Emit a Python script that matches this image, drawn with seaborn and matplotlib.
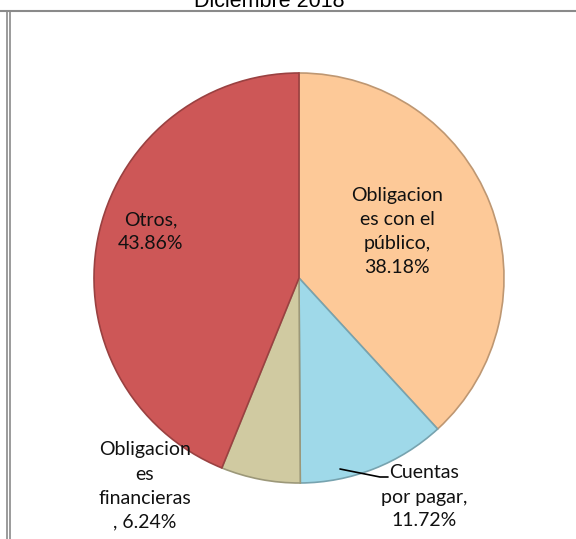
import matplotlib
matplotlib.use("Agg")
import matplotlib.pyplot as plt
import matplotlib.colors as mcolors
import seaborn as sns

# ---- data ----
categories = ["Obligaciones con el público", "Cuentas por pagar",
              "Obligaciones financieras", "Otros"]
label_texts = ["Obligacion\nes con el\npúblico,\n38.18%",
               "Cuentas\npor pagar,\n11.72%",
               "Obligacion\nes\nfinancieras\n, 6.24%",
               "Otros,\n43.86%"]
values = [38.18, 11.72, 6.24, 43.86]
title = "Diciembre 2018"

colors = ["#FDC998", "#9FD9E9", "#D0CAA1", "#CD5757"]

sns.set_theme(style="white")
plt.rcParams["font.family"] = ["Lato", "DejaVu Sans"]

W, H = 576, 539
fig = plt.figure(figsize=(W / 100, H / 100), dpi=100)
fig.patch.set_facecolor("white")

cx, cy, r = 299, 278, 205
ax = fig.add_axes([(cx - r) / W, 1 - (cy + r) / H, 2 * r / W, 2 * r / H])
wedges, _ = ax.pie(values, colors=colors, startangle=90, counterclock=False,
                   radius=1.0, wedgeprops=dict(linewidth=1.2))
for w, c in zip(wedges, colors):
    rgb = mcolors.to_rgb(c)
    w.set_edgecolor(tuple(v * 0.75 for v in rgb))
ax.set_xlim(-1, 1)
ax.set_ylim(-1, 1)
ax.set_aspect("equal")
ax.axis("off")

def px2d(px, py):
    return (px - cx) / r, (cy - py) / r

label_pos = [(397, 232), (424, 497), (145, 486), (151, 232)]
for txt, (px, py) in zip(label_texts, label_pos):
    x, y = px2d(px, py)
    ax.text(x, y, txt, ha="center", va="center", fontsize=14,
            color="#111111", linespacing=1.5, clip_on=False)

# leader line for Cuentas por pagar
lx = [px2d(340, 469)[0], px2d(380, 477)[0], px2d(388, 477)[0]]
ly = [px2d(340, 469)[1], px2d(380, 477)[1], px2d(388, 477)[1]]
ax.plot(lx, ly, color="black", linewidth=1.2, clip_on=False)

# title (partially cropped at top, as in the reference)
fig.text(269 / W, 1 - 7 / H, title, ha="center", va="baseline",
         fontsize=15.5, family="Liberation Sans", color="black")

# frame lines
fig.add_artist(plt.Line2D([0, 1], [1 - 11 / H, 1 - 11 / H],
                          transform=fig.transFigure, color="#8a8a8a", linewidth=1.5))
fig.add_artist(plt.Line2D([7 / W, 7 / W], [0, 1 - 11 / H],
                          transform=fig.transFigure, color="#8a8a8a", linewidth=1.2))
fig.add_artist(plt.Line2D([10 / W, 10 / W], [0, 1 - 11 / H],
                          transform=fig.transFigure, color="#8a8a8a", linewidth=1.2))

fig.savefig("out.png", dpi=100)
